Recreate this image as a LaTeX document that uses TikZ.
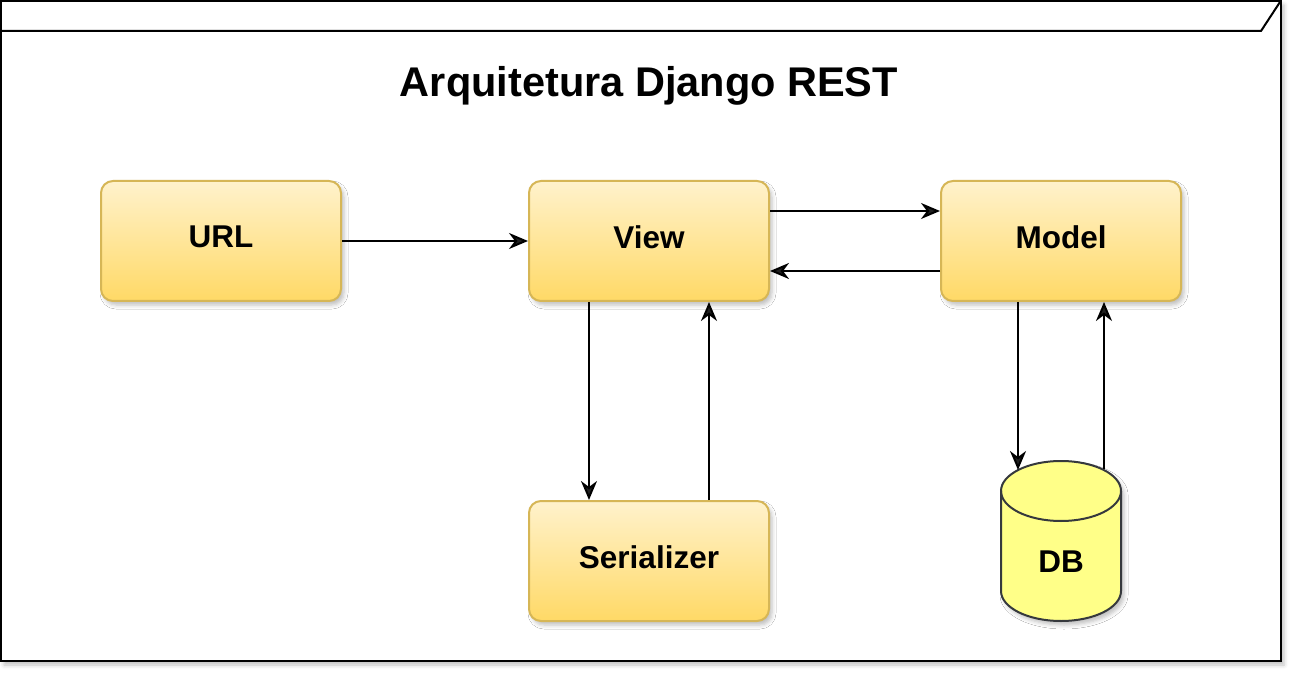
\documentclass[tikz,border=0pt]{standalone}
\usepackage{fontspec}
\setmainfont{Liberation Sans}
\usetikzlibrary{arrows.meta,shadows.blur}
\definecolor{boxtop}{HTML}{FFF2CC}
\definecolor{boxbot}{HTML}{FFD966}
\definecolor{boxstroke}{HTML}{D6B656}
\definecolor{dbfill}{HTML}{FFFF88}
\definecolor{dbstroke}{HTML}{36393D}
\begin{document}
\begin{tikzpicture}[x=1pt,y=-1pt,
  shad/.style={blur shadow={shadow xshift=3pt, shadow yshift=-4pt, shadow blur radius=4pt, shadow opacity=25}},
  stepbox/.style={draw=boxstroke, line width=2pt, rounded corners=12pt, top color=boxtop, bottom color=boxbot, minimum width=240pt, minimum height=120pt, inner sep=0pt, shad},
  conn/.style={line width=2pt, -{Stealth[length=19pt,width=16pt,inset=6pt]}},
  lbl/.style={font=\fontsize{31.5}{36}\selectfont\bfseries, inner sep=0pt}]
\useasboundingbox (0,0) rectangle (1306,684);
% frame
\draw[line width=2pt, fill=white, shad] (1,1) rectangle (1281,661);
\draw[line width=2pt] (1,31) -- (1261,31) -- (1280,2);
% title
\node[font=\fontsize{41.5}{48}\selectfont\bfseries] (title) at (649,86) {Arquitetura Django REST};
% boxes
\node[stepbox] (url) at (221,241) {};
\node[stepbox] (view) at (649,241) {};
\node[stepbox] (model) at (1061,241) {};
\node[stepbox] (ser) at (649,561) {};
\node[lbl] (urlt) at ([yshift=4pt]url.center) {URL};
\node[lbl] (viewt) at ([yshift=4pt]view.center) {View};
\node[lbl] (modelt) at ([yshift=4pt]model.center) {Model};
\node[lbl] (sert) at ([yshift=4pt]ser.center) {Serializer};
% DB cylinder
\fill[dbfill, shad] (1001,491) -- (1001,591) arc[start angle=180,end angle=0,x radius=60,y radius=30] -- (1121,491) arc[start angle=0,end angle=-180,x radius=60,y radius=30] -- cycle;
\draw[dbstroke, line width=2pt] (1001,491) -- (1001,591) arc[start angle=180,end angle=0,x radius=60,y radius=30] -- (1121,491) arc[start angle=0,end angle=-180,x radius=60,y radius=30] -- cycle;
\draw[dbstroke, line width=2pt] (1001,491) arc[start angle=180,end angle=0,x radius=60,y radius=30];
\node[lbl] (db) at (1061,562) {DB};
\coordinate (dbin) at (1018,470);
\coordinate (dbout) at (1104,469);
% connectors
\draw[conn] (url) -- (view);
\draw[conn] ([yshift=30pt]view.east) -- ([yshift=30pt]model.west);
\draw[conn] ([yshift=-30pt]model.west) -- ([yshift=-30pt]view.east);
\draw[conn] ([xshift=-60pt]view.south) -- ([xshift=-60pt]ser.north);
\draw[conn] ([xshift=60pt]ser.north) -- ([xshift=60pt]view.south);
\draw[conn] ([xshift=-43pt]model.south) -- (dbin);
\draw[conn] (dbout) -- ([xshift=43pt]model.south);
\end{tikzpicture}
\end{document}
